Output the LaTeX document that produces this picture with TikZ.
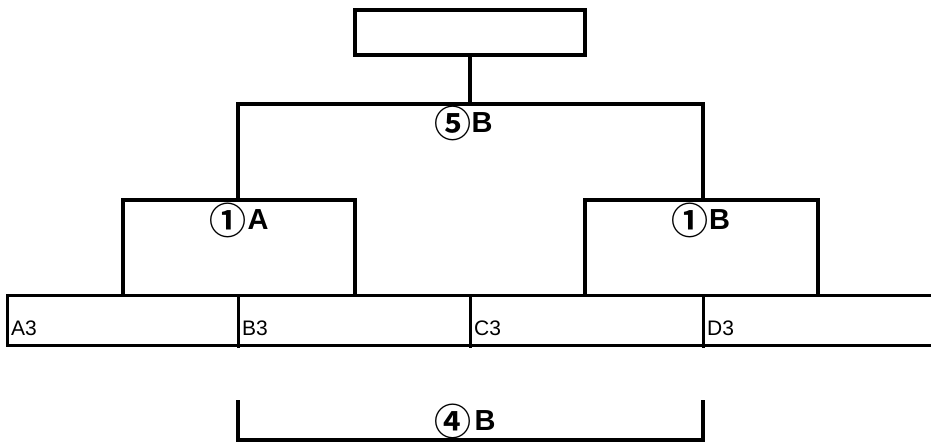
\documentclass[tikz,border=0pt]{standalone}
\usepackage{fontspec}
\setmainfont{Liberation Sans}
\newfontfamily\jpfont{Noto Sans CJK JP}[BoldFont={Noto Sans CJK JP Bold}]
\begin{document}
\begin{tikzpicture}[x=1pt,y=-1pt,
  thickline/.style={line width=4pt},
  cellline/.style={line width=3pt},
  circ/.style={font=\jpfont\bfseries\fontsize{37}{37}\selectfont, inner sep=0pt},
  letter/.style={font=\bfseries\fontsize{29}{29}\selectfont, inner sep=0pt},
  cell/.style={font=\fontsize{21}{21}\selectfont, inner sep=0pt, anchor=base west}]
\useasboundingbox (0,0) rectangle (931,443);
% top box
\node[draw, thickline, minimum width=230pt, minimum height=45pt, inner sep=0pt] (top) at (470,32.5) {};
\coordinate (j5) at (470,104);
\coordinate (j5l) at (238,104);
\coordinate (j5r) at (703,104);
\draw[thickline] (top.south) -- (j5);
\draw[thickline, line cap=rect] (238,200) -- (j5l) -- (j5r) -- (703,200);
\node[circ] (l5c) at (452.5,123) {⑤};
\node[letter] (l5) at (482,123) {B};
% left bracket
\coordinate (la) at (123,296);
\coordinate (lb) at (355,296);
\draw[thickline] (la) -- (123,200) -- (355,200) -- (lb);
\node[circ] (l1ac) at (227.5,220) {①};
\node[letter] (l1a) at (258,220) {A};
% right bracket
\coordinate (ra) at (585,296);
\coordinate (rb) at (818,296);
\draw[thickline] (ra) -- (585,200) -- (818,200) -- (rb);
\node[circ] (l1bc) at (690,220) {①};
\node[letter] (l1b) at (719.5,220) {B};
% table
\draw[cellline] (6,296) -- (931,296);
\draw[cellline] (6,345) -- (931,345);
\draw[cellline] (7.5,296) -- (7.5,346.5);
\draw[cellline] (238,296) -- (238,348);
\draw[cellline] (470,296) -- (470,348);
\draw[cellline] (703,296) -- (703,348);
\node[cell] (a3) at (11,336) {A3};
\node[cell] (b3) at (242,336) {B3};
\node[cell] (c3) at (474,336) {C3};
\node[cell] (d3) at (707,336) {D3};
% bottom bracket
\coordinate (ba) at (238,400);
\coordinate (bb) at (703,400);
\draw[thickline] (ba) -- (238,440) -- (703,440) -- (bb);
\node[circ] (l4c) at (453,421) {④};
\node[letter] (l4) at (485,421) {B};
\end{tikzpicture}
\end{document}
